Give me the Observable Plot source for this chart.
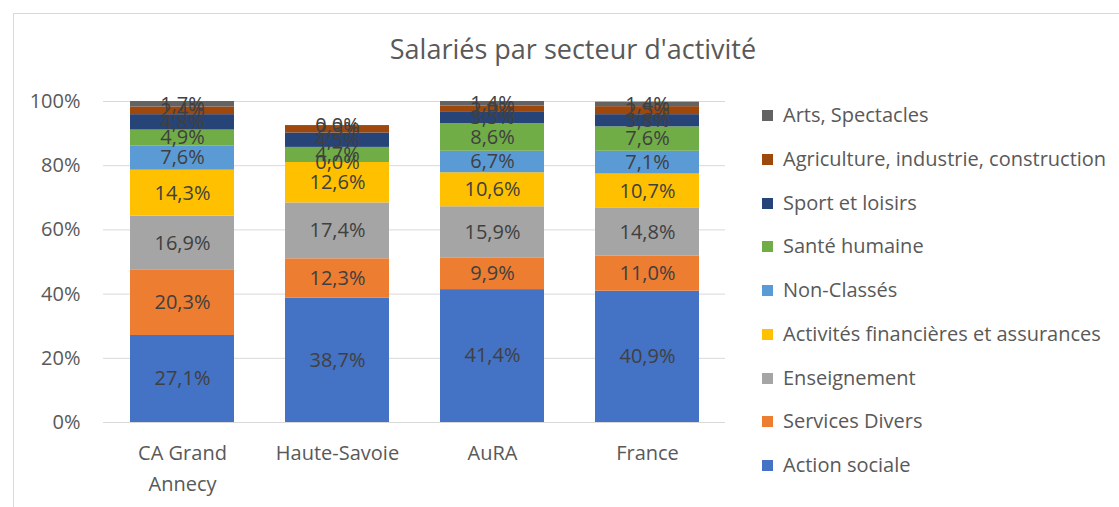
<!DOCTYPE html>
<html>
<head>
<meta charset="utf-8">
<script src="https://cdn.jsdelivr.net/npm/d3@7"></script>
<script src="https://cdn.jsdelivr.net/npm/@observablehq/plot@0.6"></script>
<style>
  html, body { margin: 0; padding: 0; background: #fff; }
  #wrap { position: relative; width: 1119px; height: 507px; overflow: hidden; font-family: "Segoe UI", "Open Sans", sans-serif; }
  #frame { position: absolute; left: 13px; top: 13px; width: 1200px; height: 600px; border: 1px solid #d9d9d9; box-sizing: border-box; }
  #title { position: absolute; left: 0; width: 1146px; top: 30px; text-align: center; font-size: 27px; color: #595959; }
  #chart { position: absolute; left: 0; top: 0; }
  #legend { position: absolute; left: 762px; top: 0; }
  .li { position: absolute; white-space: nowrap; font-size: 20px; color: #595959; height: 26px; line-height: 26px; }
  .sw { position: absolute; left: 0; top: 8px; width: 11px; height: 11px; }
  .lt { position: absolute; left: 21px; top: 0; }
</style>
</head>
<body>
<div id="wrap">
  <div id="frame"></div>
  <div id="chart"></div>
  <div id="title">Salariés par secteur d'activité</div>
  <div id="legend"></div>
</div>
<script>
// Categories (x axis)
const categories = ["CA Grand Annecy", "Haute-Savoie", "AuRA", "France"];
const categoryLabels = ["CA Grand\nAnnecy", "Haute-Savoie", "AuRA", "France"];
// Sectors, bottom to top of each stacked bar
const sectors = [
  "Action sociale",
  "Services Divers",
  "Enseignement",
  "Activités financières et assurances",
  "Non-Classés",
  "Santé humaine",
  "Sport et loisirs",
  "Agriculture, industrie, construction",
  "Arts, Spectacles"
];
const colors = ["#4472C4", "#ED7D31", "#A5A5A5", "#FFC000", "#5B9BD5", "#70AD47", "#264478", "#9E480E", "#636363"];
// Values (%) per sector, in category order
const actionSociale   = [27.1, 38.7, 41.4, 40.9];
const servicesDivers  = [20.3, 12.3,  9.9, 11.0];
const enseignement    = [16.9, 17.4, 15.9, 14.8];
const activitesFin    = [14.3, 12.6, 10.6, 10.7];
const nonClasses      = [ 7.6,  0.0,  6.7,  7.1];
const santeHumaine    = [ 4.9,  4.7,  8.6,  7.6];
const sportLoisirs    = [ 4.8,  4.5,  3.5,  3.8];
const agriculture     = [ 2.4,  2.3,  2.0,  2.5];
const artsSpectacles  = [ 1.7,  0.0,  1.4,  1.4];
const yTicks = [0, 0.2, 0.4, 0.6, 0.8, 1.0];

const series = [actionSociale, servicesDivers, enseignement, activitesFin, nonClasses,
                santeHumaine, sportLoisirs, agriculture, artsSpectacles];
const data = [];
sectors.forEach((s, i) => categories.forEach((c, j) => {
  data.push({category: c, sector: s, value: series[i][j] / 100});
}));

const fmt = v => (v * 100).toFixed(1).replace(".", ",") + "%";
const labelMap = new Map(categories.map((c, i) => [c, categoryLabels[i]]));

const chart = Plot.plot({
  width: 1119,
  height: 507,
  marginLeft: 103,
  marginRight: 394,
  marginTop: 101,
  marginBottom: 85,
  style: {fontFamily: '"Segoe UI", "Open Sans", sans-serif', background: "transparent", overflow: "visible"},
  x: {domain: categories, paddingInner: 0.33, paddingOuter: 0.165, label: null},
  y: {domain: [0, 1], label: null},
  color: {domain: sectors, range: colors},
  marks: [
    Plot.gridY(yTicks, {stroke: "#d9d9d9", strokeOpacity: 1, strokeWidth: 1}),
    Plot.axisY({ticks: yTicks, tickFormat: d => Math.round(d * 100) + "%", tickSize: 0, tickPadding: 23, fontSize: 20, fill: "#595959", label: null}),
    Plot.axisX({tickSize: 0, tickPadding: 15, fontSize: 20, fill: "#595959", lineHeight: 1.55, tickFormat: d => labelMap.get(d), label: null}),
    Plot.barY(data, Plot.stackY({x: "category", y: "value", fill: "sector", order: sectors, inset: 0})),
    Plot.ruleY([0], {stroke: "#d9d9d9"}),
    Plot.text(data, Plot.stackY({x: "category", y: "value", z: "sector", order: sectors, text: d => fmt(d.value), fill: "#404040", fontSize: 20}))
  ]
});
document.getElementById("chart").appendChild(chart);

// Legend: top to bottom is the reverse of stack order
const legend = document.getElementById("legend");
const legendTop = 102, legendStep = 43.75;
sectors.slice().reverse().forEach((s, k) => {
  const idx = sectors.indexOf(s);
  const item = document.createElement("div");
  item.className = "li";
  item.style.top = (legendTop + k * legendStep) + "px";
  const sw = document.createElement("div");
  sw.className = "sw";
  sw.style.background = colors[idx];
  const t = document.createElement("div");
  t.className = "lt";
  t.textContent = s;
  item.appendChild(sw);
  item.appendChild(t);
  legend.appendChild(item);
});
</script>
</body>
</html>
